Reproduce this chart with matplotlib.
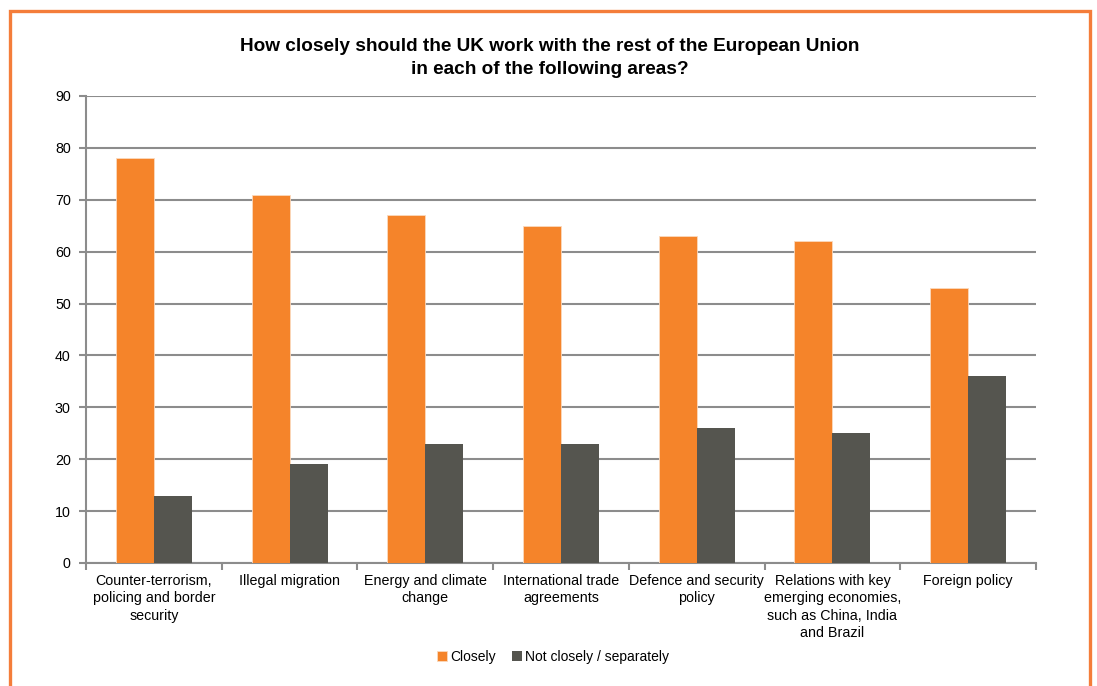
import matplotlib
matplotlib.use("Agg")
import matplotlib.pyplot as plt
from matplotlib.patches import Rectangle
import numpy as np

categories = [
    "Counter-terrorism,\npolicing and border\nsecurity",
    "Illegal migration",
    "Energy and climate\nchange",
    "International trade\nagreements",
    "Defence and security\npolicy",
    "Relations with key\nemerging economies,\nsuch as China, India\nand Brazil",
    "Foreign policy",
]
closely = [78, 71, 67, 65, 63, 62, 53]
not_closely = [13, 19, 23, 23, 26, 25, 36]
series_names = ["Closely", "Not closely / separately"]
yticks = list(range(0, 91, 10))

plt.rcParams['font.family'] = ['Liberation Sans', 'DejaVu Sans']

orange = "#F5842A"
dark = "#55554F"
grid_c = "#8C8C8C"

fig = plt.figure(figsize=(10.97, 6.86), dpi=100)
ax = fig.add_axes([86/1097, 1-563/686, (1036-86)/1097, (563-96)/686])

x = np.arange(len(categories))
w = 0.28
ax.bar(x - w/2, closely, w, color=orange, label=series_names[0], zorder=3,
       edgecolor="#FBD9BD", linewidth=0.6)
ax.bar(x + w/2, not_closely, w, color=dark, label=series_names[1], zorder=3)

ax.set_xlim(-0.5, len(categories) - 0.5)
ax.set_ylim(0, 90)
ax.set_yticks(yticks)
ax.yaxis.grid(True, color=grid_c, linewidth=1.5, zorder=0)
ax.set_axisbelow(True)

ax.set_xticks(np.arange(-0.5, len(categories), 1.0))
ax.set_xticklabels([])
ax.set_xticks(x, minor=True)
ax.set_xticklabels(categories, minor=True, fontsize=10.3, linespacing=1.3)
ax.tick_params(axis='x', which='minor', length=0, pad=8)
ax.tick_params(axis='x', which='major', length=5, width=1.5, color=grid_c)
ax.tick_params(axis='y', length=5, width=1.5, color=grid_c, labelsize=10.3, pad=6)

for s in ["top", "right"]:
    ax.spines[s].set_visible(False)
for s in ["left", "bottom"]:
    ax.spines[s].set_color(grid_c)
    ax.spines[s].set_linewidth(1.5)

fig.text(550/1097, 1-58/686, "How closely should the UK work with the rest of the European Union\nin each of the following areas?",
         ha="center", va="center", fontsize=13.7, fontweight="bold", linespacing=1.5)

fig.legend(loc="center", bbox_to_anchor=(553/1097, 1-657/686), ncol=2, frameon=False,
           fontsize=10, handlelength=0.7, handleheight=0.7, handletextpad=0.2,
           columnspacing=1.2)

rect = Rectangle((10/1097, -0.05), (1090-10)/1097, 1.05 - 11/686, transform=fig.transFigure,
                 fill=False, edgecolor="#F47D3A", linewidth=2.4, clip_on=False)
fig.add_artist(rect)

fig.savefig("out.png", dpi=100)
